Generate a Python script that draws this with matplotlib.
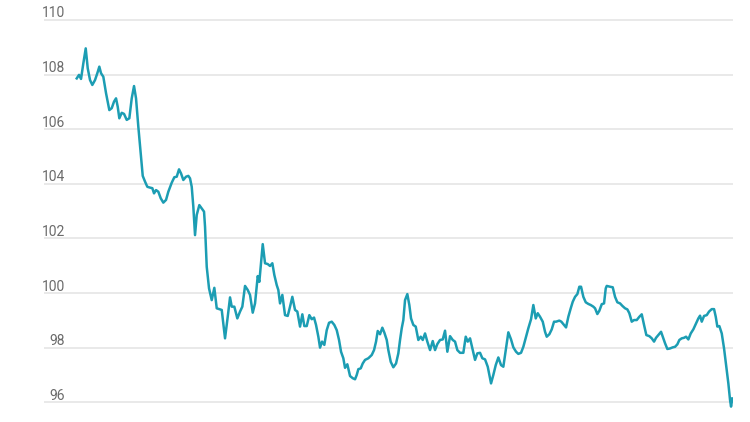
import numpy as np
from matplotlib import pyplot as plt

# time axis (arbitrary units from the first point) and index values
t = [0.0, 2.3, 4.3, 6.6, 9.0, 11.0, 13.3, 15.6, 18.3, 20.6,
     22.6, 24.3, 26.6, 29.3, 32.6, 35.0, 37.3, 39.3, 41.0, 42.6,
     45.0, 47.3, 50.0, 52.6, 55.0, 57.3, 59.3, 61.6, 64.0, 66.0,
     68.3, 70.6, 73.3, 75.6, 77.3, 79.3, 81.6, 84.0, 86.6, 89.3,
     91.6, 95.0, 97.6, 100.0, 102.3, 104.3, 106.6, 109.3, 111.6, 113.3,
     115.0, 116.6, 118.3, 120.0, 122.6, 125.0, 127.3, 128.3, 130.0, 132.3,
     135.0, 137.6, 140.0, 142.6, 145.0, 148.3, 151.0, 153.3, 155.0, 157.6,
     160.6, 163.3, 165.6, 168.3, 171.0, 173.3, 176.0, 178.3, 181.0, 182.6,
     186.0, 188.3, 191.0, 193.3, 195.6, 197.6, 200.0, 201.6, 203.3, 205.6,
     208.3, 211.0, 213.3, 215.6, 218.3, 220.6, 223.3, 225.6, 227.6, 230.0,
     232.6, 235.0, 237.3, 239.3, 241.6, 243.3, 245.3, 247.6, 250.0, 252.3,
     255.0, 257.6, 260.0, 262.3, 264.3, 266.6, 268.3, 270.6, 273.3, 276.0,
     278.3, 280.0, 281.6, 284.0, 286.0, 288.3, 291.6, 295.0, 297.3, 299.3,
     301.0, 303.3, 305.6, 307.6, 310.0, 311.6, 314.0, 316.6, 319.3, 321.6,
     323.3, 325.0, 326.6, 328.3, 330.6, 332.6, 334.3, 336.6, 339.0, 341.6,
     344.0, 346.0, 348.3, 350.6, 353.3, 356.0, 358.3, 360.6, 363.3, 366.0,
     368.3, 370.6, 373.3, 376.0, 378.3, 380.6, 383.3, 386.6, 389.0, 391.0,
     393.3, 396.0, 398.3, 400.6, 403.3, 405.6, 408.3, 411.0, 412.6, 414.3,
     416.6, 419.0, 421.6, 424.3, 426.6, 429.0, 431.6, 434.3, 436.6, 439.3,
     441.6, 444.3, 446.6, 449.3, 451.6, 454.3, 456.6, 459.0, 461.0, 463.3,
     466.0, 468.3, 470.0, 472.6, 475.0, 477.3, 479.3, 482.6, 484.6, 487.3,
     489.3, 491.6, 494.0, 496.0, 498.3, 500.6, 502.6, 504.3, 506.6, 509.0,
     511.6, 514.0, 516.6, 518.3, 520.6, 522.6, 525.0, 527.3, 529.0, 530.0,
     533.3, 536.0, 538.3, 540.6, 543.3, 545.6, 548.3, 550.6, 552.6, 555.0,
     557.3, 560.0, 562.6, 565.0, 567.3, 569.6, 572.6, 575.0, 577.3, 579.3,
     581.6, 584.3, 586.6, 588.3, 590.6, 593.3, 596.0, 598.3, 600.6, 602.6,
     605.0, 607.3, 609.3, 611.6, 614.0, 616.6, 619.3, 621.6, 623.3, 625.0,
     627.3, 630.0, 632.3, 635.0, 637.3, 639.0, 640.6, 642.6, 645.0, 647.3,
     650.0, 651.6, 653.3, 654.3, 655.6]

index_val = [107.86, 107.99, 107.84, 108.41, 108.96, 108.23, 107.80, 107.62, 107.80, 108.05,
             108.29, 108.05, 107.92, 107.32, 106.70, 106.77, 107.01, 107.13, 106.82, 106.40,
             106.60, 106.56, 106.34, 106.40, 107.13, 107.58, 107.13, 106.09, 105.12, 104.29,
             104.08, 103.89, 103.86, 103.84, 103.65, 103.77, 103.71, 103.47, 103.31, 103.41,
             103.71, 104.04, 104.24, 104.26, 104.53, 104.38, 104.14, 104.26, 104.29, 104.20,
             103.89, 103.16, 102.12, 102.86, 103.22, 103.10, 102.98, 102.43, 100.96, 100.17,
             99.74, 100.19, 99.44, 99.41, 99.38, 98.34, 99.13, 99.84, 99.50, 99.50,
             99.07, 99.32, 99.50, 100.26, 100.11, 99.93, 99.28, 99.62, 100.62, 100.41,
             101.79, 101.09, 101.06, 100.99, 101.09, 100.66, 100.29, 100.11, 99.62, 99.93,
             99.19, 99.16, 99.50, 99.86, 99.38, 99.32, 98.77, 99.22, 98.79, 98.79,
             99.19, 99.04, 99.10, 98.83, 98.40, 98.00, 98.22, 98.10, 98.64, 98.91,
             98.95, 98.83, 98.64, 98.28, 97.85, 97.61, 97.26, 97.39, 96.96, 96.88,
             96.84, 97.00, 97.21, 97.24, 97.42, 97.55, 97.61, 97.73, 97.91, 98.22,
             98.61, 98.49, 98.73, 98.55, 98.28, 97.91, 97.48, 97.28, 97.42, 97.79,
             98.28, 98.71, 99.01, 99.74, 99.96, 99.56, 99.07, 98.83, 98.77, 98.28,
             98.40, 98.28, 98.52, 98.22, 97.91, 98.24, 97.91, 98.13, 98.28, 98.30,
             98.62, 97.85, 98.42, 98.28, 98.22, 97.91, 97.81, 97.81, 98.40, 98.22,
             98.34, 97.91, 97.55, 97.79, 97.81, 97.61, 97.57, 97.30, 97.00, 96.69,
             97.00, 97.36, 97.64, 97.36, 97.30, 97.91, 98.56, 98.30, 98.01, 97.85,
             97.77, 97.81, 98.03, 98.40, 98.71, 99.04, 99.56, 99.07, 99.26, 99.13,
             98.95, 98.58, 98.40, 98.49, 98.67, 98.95, 98.95, 98.99, 98.95, 98.83,
             98.74, 99.13, 99.44, 99.68, 99.86, 99.96, 100.23, 100.23, 99.86, 99.66,
             99.60, 99.56, 99.50, 99.44, 99.23, 99.35, 99.59, 99.62, 100.17, 100.26,
             100.23, 100.21, 99.86, 99.66, 99.62, 99.53, 99.44, 99.40, 99.26, 98.95,
             99.01, 99.01, 99.13, 99.22, 98.83, 98.46, 98.42, 98.34, 98.22, 98.36,
             98.46, 98.58, 98.34, 98.16, 97.95, 97.97, 98.01, 98.03, 98.12, 98.28,
             98.34, 98.36, 98.40, 98.30, 98.52, 98.67, 98.89, 99.07, 99.17, 98.95,
             99.16, 99.19, 99.32, 99.41, 99.41, 99.13, 98.77, 98.79, 98.52, 97.97,
             97.18, 96.69, 96.08, 95.84, 96.14]

y_ticks = [96, 98, 100, 102, 104, 106, 108, 110]

plt.rcParams['font.family'] = ['Roboto', 'DejaVu Sans']

fig = plt.figure(figsize=(7.5, 4.22), dpi=100)
ax = fig.add_axes([0.0587, 0.0145, 0.9187, 0.9511])

#light horizontal grid lines
for v in y_ticks:
    ax.axhline(v, color='#e5e5e5', linewidth=1.2, zorder=1)
    #labels sit just above their grid line, right aligned
    ax.annotate(str(v), xy=(0, v), xycoords=('axes fraction', 'data'),
                xytext=(15.1, 1.8), textcoords='offset points',
                ha='right', va='baseline', fontsize=10, color='#6b6b6b')

ax.plot(t, index_val, color='#1c9db3', linewidth=1.8, zorder=3, solid_joinstyle='round')

ax.set_xlim(-32.7, 656.3)
ax.set_ylim(95.5, 110.2)
ax.axis('off')

plt.savefig('out.png', dpi=100)
